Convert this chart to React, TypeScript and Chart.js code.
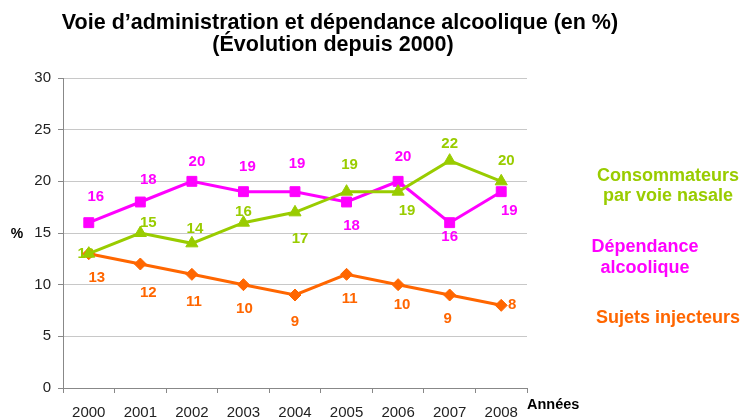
import React, { useEffect, useRef } from "react";
import { Chart, registerables } from "chart.js";

Chart.register(...registerables);

const years = ["2000", "2001", "2002", "2003", "2004", "2005", "2006", "2007", "2008"];
const nasal = [13, 15, 14, 16, 17, 19, 19, 22, 20];
const alcool = [16, 18, 20, 19, 19, 18, 20, 16, 19];
const injecteurs = [13, 12, 11, 10, 9, 11, 10, 9, 8];
const yTicks = [0, 5, 10, 15, 20, 25, 30];

const titleLines = ["Voie d\u2019administration et dépendance alcoolique (en %)", "(Évolution depuis 2000)"];
const seriesNames = ["Consommateurs par voie nasale", "Dépendance alcoolique", "Sujets injecteurs"];

const GREEN = "#99CC00";
const MAGENTA = "#FF00FF";
const ORANGE = "#FF6600";
const FONT = "'Liberation Sans', Arial, sans-serif";

// label offsets (dx, dy) relative to each point, in pixels (styling only)
const labelOffsets: number[][][] = [
  [[-3, 0], [8, -10], [3, -14], [0, -11], [5, 27], [3, -27], [9, 19], [0, -17], [5, -20]],
  [[7, -26], [8, -22], [5, -19], [4, -25], [2, -28], [5, 24], [5, -24], [0, 14], [8, 19]],
  [[8, 24], [8, 29], [2, 28], [1, 24], [0, 27], [3, 25], [4, 20], [-2, 24], [11, 0]],
];

const overlayPlugin = {
  id: "overlay",
  beforeDatasetsDraw(chart: any) {
    const ctx = chart.ctx;
    ctx.save();
    ctx.font = `bold 15px ${FONT}`;
    ctx.textAlign = "center";
    ctx.textBaseline = "middle";
    chart.data.datasets.forEach((ds: any, di: number) => {
      const meta = chart.getDatasetMeta(di);
      ctx.fillStyle = ds.borderColor;
      meta.data.forEach((pt: any, i: number) => {
        const off = labelOffsets[di][i] || [0, -20];
        ctx.fillText(String(ds.data[i]), pt.x + off[0], pt.y + off[1]);
      });
    });
    ctx.restore();
  },
  afterDatasetsDraw(chart: any) {
    const ctx = chart.ctx;
    ctx.save();
    ctx.textAlign = "center";
    ctx.textBaseline = "middle";
    // title
    ctx.fillStyle = "#000";
    ctx.font = `bold 21.5px ${FONT}`;
    ctx.fillText(titleLines[0], 340, 23);
    ctx.fillText(titleLines[1], 333, 45);
    // axis titles
    ctx.font = `bold 14px ${FONT}`;
    ctx.fillText("%", 17, 234);
    ctx.textAlign = "left";
    ctx.font = `bold 14.5px ${FONT}`;
    ctx.fillText("Années", 527, 405);
    // side legend
    ctx.textAlign = "center";
    ctx.font = `bold 18px ${FONT}`;
    ctx.fillStyle = GREEN;
    ctx.fillText("Consommateurs", 668, 176);
    ctx.fillText("par voie nasale", 668, 196);
    ctx.fillStyle = MAGENTA;
    ctx.fillText("Dépendance", 645, 247);
    ctx.fillText("alcoolique", 645, 268);
    ctx.fillStyle = ORANGE;
    ctx.fillText("Sujets injecteurs", 668, 318);
    ctx.restore();
  },
};

export default function App() {
  const ref = useRef<HTMLCanvasElement>(null);
  useEffect(() => {
    if (!ref.current) return;
    const chart = new Chart(ref.current, {
      type: "line",
      data: {
        labels: years,
        datasets: [
          {
            label: seriesNames[0],
            data: nasal,
            borderColor: GREEN,
            backgroundColor: GREEN,
            borderWidth: 3,
            pointStyle: "triangle",
            pointRadius: 7,
            pointBorderWidth: 1,
            order: 1,
          },
          {
            label: seriesNames[1],
            data: alcool,
            borderColor: MAGENTA,
            backgroundColor: MAGENTA,
            borderWidth: 3,
            pointStyle: "rect",
            pointRadius: 7,
            pointBorderWidth: 1,
            order: 2,
          },
          {
            label: seriesNames[2],
            data: injecteurs,
            borderColor: ORANGE,
            backgroundColor: ORANGE,
            borderWidth: 3,
            pointStyle: "rectRot",
            pointRadius: 6,
            pointBorderWidth: 1,
            order: 3,
          },
        ],
      },
      options: {
        animation: false,
        responsive: false,
        maintainAspectRatio: false,
        layout: { padding: { top: 78, right: 218, left: 0, bottom: 0 } },
        plugins: { legend: { display: false }, title: { display: false }, tooltip: { enabled: false } },
        scales: {
          x: {
            type: "category",
            offset: true,
            grid: { display: true, drawOnChartArea: false, drawTicks: true, tickLength: 5, offset: true, color: "#888", tickColor: "#888" },
            border: { color: "#888", width: 1 },
            ticks: { color: "#222", font: { family: FONT, size: 15 }, padding: 11, maxRotation: 0 },
            afterFit: (s: any) => { s.height = 31; },
          },
          y: {
            min: 0,
            max: 30,
            afterBuildTicks: (s: any) => { s.ticks = yTicks.map((v) => ({ value: v })); },
            grid: { color: "#c8c8c8", tickColor: "#888", tickLength: 5, drawTicks: true },
            border: { color: "#888", width: 1 },
            ticks: { color: "#222", font: { family: FONT, size: 15 }, padding: 7 },
            afterFit: (s: any) => { s.width = 63; },
          },
        },
      },
      plugins: [overlayPlugin],
    });
    return () => chart.destroy();
  }, []);
  return (
    <div style={{ position: "absolute", left: 0, top: 0, width: 745, height: 419, background: "#fff" }}>
      <canvas ref={ref} width={745} height={419} style={{ width: 745, height: 419 }} />
    </div>
  );
}
